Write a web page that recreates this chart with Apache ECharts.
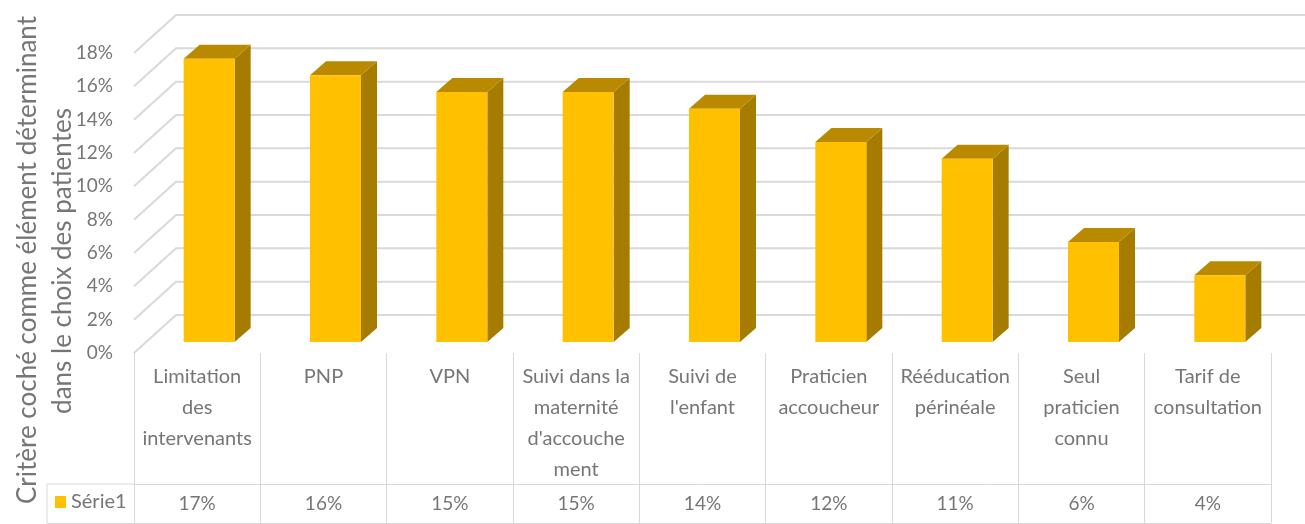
<!DOCTYPE html>
<html><head><meta charset="utf-8">
<style>html,body{margin:0;padding:0;background:#fff}#c{width:1305px;height:524px;filter:blur(0.5px)}</style>
<script src="https://cdn.jsdelivr.net/npm/echarts@6/dist/echarts.min.js"></script>
</head><body><div id="c"></div>
<script>
const categories = ["Limitation\ndes\nintervenants","PNP","VPN","Suivi dans la\nmaternité\nd'accouche\nment","Suivi de\nl'enfant","Praticien\naccoucheur","Rééducation\npérinéale","Seul\npraticien\nconnu","Tarif de\nconsultation"];
const values = [17,16,15,15,14,12,11,6,4];
const yTicks = [0,2,4,6,8,10,12,14,16,18];
const seriesName = "Série1";
const titleLine1 = "Critère coché comme élément déterminant";
const titleLine2 = "dans le choix des patientes";

const FONT = "Lato", TXT = "#767676", LINE = "#d9d9d9";
const chart = echarts.init(document.getElementById('c'), null, {renderer:'canvas'});
const depthX = 42, depthY = 38, rightExtra = 34;
const barW = 51, barShiftX = 12, barShiftY = 11, capX = 16, capY = 14;

function wall(params, api){
  const cs = params.coordSys;
  const y = api.coord([0, api.value(1)])[1];
  return {type:'polyline', silent:true,
    shape:{points:[[cs.x,y],[cs.x+depthX,y-depthY],[cs.x+cs.width+rightExtra,y-depthY]]},
    style:{stroke:LINE, lineWidth:2, fill:null}};
}
function bar(params, api){
  const p = api.coord([api.value(0), api.value(1)]);
  const b = api.coord([api.value(0), 0]);
  const x0 = p[0]+barShiftX-barW/2, x1 = x0+barW;
  const yt = p[1]-barShiftY, yb = b[1]-barShiftY;
  return {type:'group', children:[
    {type:'polygon', shape:{points:[[x1,yt],[x1+capX,yt-capY],[x1+capX,yb-capY],[x1,yb]]}, style:{fill:'#a67c00'}},
    {type:'polygon', shape:{points:[[x0,yt],[x0+capX,yt-capY],[x1+capX,yt-capY],[x1,yt]]}, style:{fill:'#b98a00'}},
    {type:'rect', shape:{x:x0,y:yt,width:barW,height:yb-yt}, style:{fill:'#ffc000'}}
  ]};
}
const lineSeg=(x1,y1,x2,y2)=>({type:'line',shape:{x1,y1,x2,y2},style:{stroke:LINE,lineWidth:1},silent:true});

chart.setOption({
  animation:false,
  backgroundColor:'#fff',
  textStyle:{fontFamily:FONT},
  grid:{left:134,right:34,top:53,height:300,containLabel:false},
  legend:{data:[seriesName],left:55,top:492,icon:'rect',itemWidth:11,itemHeight:12,itemGap:6,padding:0,
    textStyle:{fontFamily:FONT,fontSize:20,color:TXT},selectedMode:false},
  xAxis:[
    {type:'category',data:categories,position:'bottom',
      axisLine:{show:false},
      axisTick:{show:true,length:170,lineStyle:{color:LINE,width:1},alignWithLabel:false},
      axisLabel:{interval:0,margin:8,fontFamily:FONT,fontSize:20,color:TXT,lineHeight:31,align:'center',verticalAlign:'top'}},
    {type:'category',data:values.map(v=>v+'%'),position:'bottom',offset:131,
      axisLine:{show:true,lineStyle:{color:LINE,width:1}},axisTick:{show:false},
      axisLabel:{interval:0,margin:10,fontFamily:FONT,fontSize:19,color:TXT}}
  ],
  yAxis:{type:'value',min:0,max:18,interval:2,
    axisLine:{show:false},axisTick:{show:false},splitLine:{show:false},
    axisLabel:{formatter:'{value}%',margin:21,fontFamily:FONT,fontSize:19,color:TXT}},
  series:[
    {type:'custom',name:'walls',renderItem:wall,data:yTicks.map(v=>[0,v]),encode:{x:0,y:1},z:1,silent:true},
    {type:'custom',name:seriesName,renderItem:bar,data:values.map((v,i)=>[i,v]),encode:{x:0,y:1},z:2,itemStyle:{color:'#ffc000'},silent:true}
  ],
  graphic:[
    lineSeg(47,484,134,484), lineSeg(47,484,47,523), lineSeg(47,523.5,1271,523.5),
    {type:'text',x:28,y:260,rotation:Math.PI/2,silent:true,
      style:{text:titleLine1,fontFamily:FONT,fontSize:26,fill:TXT,align:'center',verticalAlign:'middle'}},
    {type:'text',x:63,y:261,rotation:Math.PI/2,silent:true,
      style:{text:titleLine2,fontFamily:FONT,fontSize:26,fill:TXT,align:'center',verticalAlign:'middle'}}
  ]
});
</script></body></html>
